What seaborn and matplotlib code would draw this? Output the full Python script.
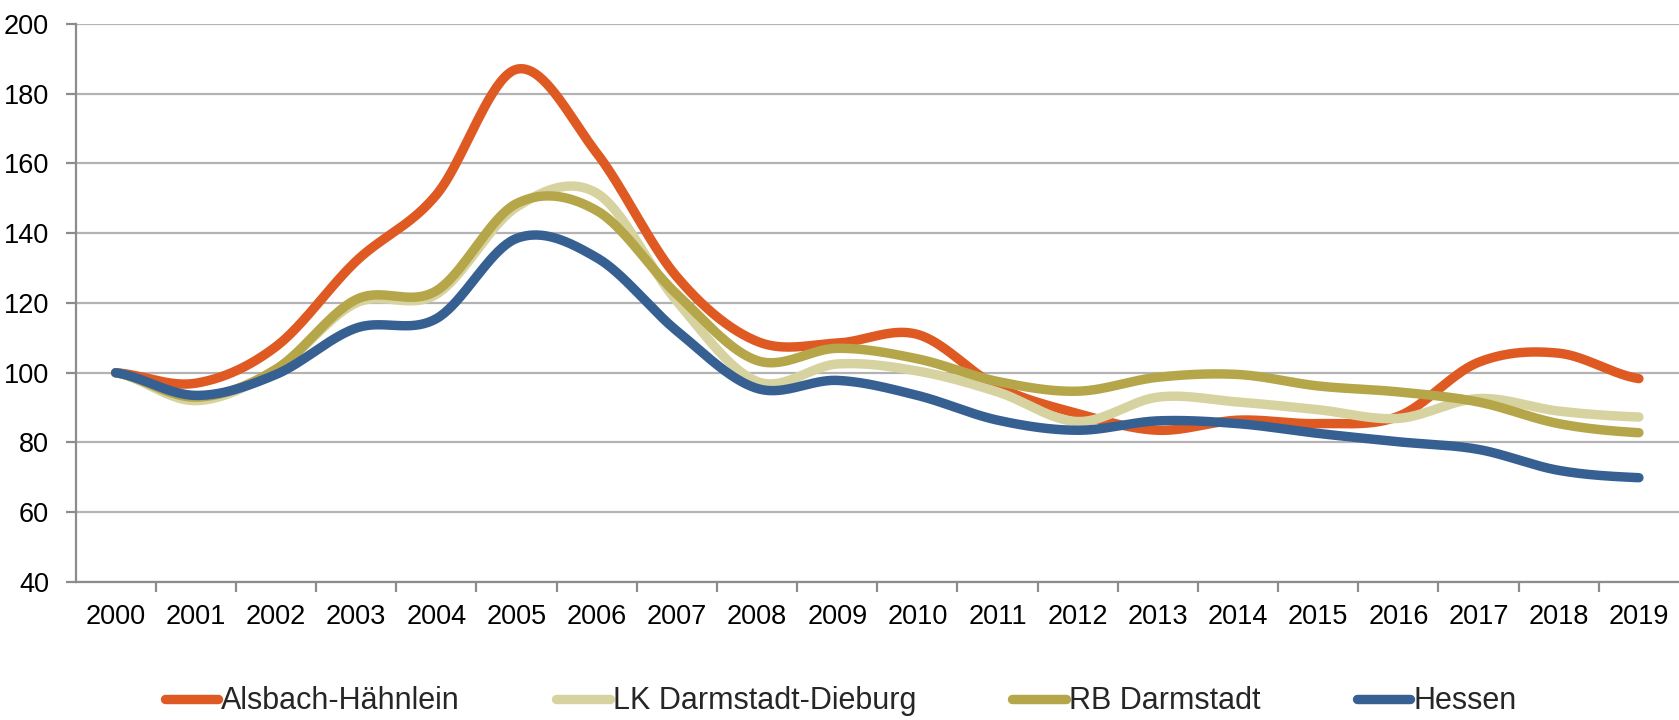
import numpy as np
import pandas as pd
import matplotlib
matplotlib.use("Agg")
import matplotlib.pyplot as plt
import seaborn as sns

# Index of property prices (2000 = 100)
years = [str(y) for y in range(2000, 2020)]
alsbach = [100, 97, 107.5, 132, 151, 187, 163, 127.5, 109, 108.5,
           111, 96, 88.3, 83.5, 86.4, 85.4, 87.5, 103, 105.6, 98.3]
lk_darmstadt_dieburg = [100, 92, 101, 120, 122.5, 147.5, 151.5, 120.5, 97.5, 102.5,
                        100.5, 94.5, 86, 93, 91.6, 89.4, 86.9, 92.6, 89, 87.3]
rb_darmstadt = [100, 93, 101, 121, 123.5, 148.5, 146.5, 122.5, 103.5, 107,
                104, 97.5, 94.7, 98.7, 99.5, 96.2, 94.5, 91.6, 85.4, 82.8]
hessen = [100, 93.5, 99.5, 112.8, 115.5, 138.5, 133, 112, 95.5, 97.8,
          93.5, 86.4, 83.5, 86.2, 85.4, 82.6, 80.2, 78, 72, 69.9]

series_names = ["Alsbach-Hähnlein", "LK Darmstadt-Dieburg", "RB Darmstadt", "Hessen"]
series_values = [alsbach, lk_darmstadt_dieburg, rb_darmstadt, hessen]
colors = ["#DF5A22", "#D7D3A1", "#B5A64A", "#366092"]
y_ticks = [40, 60, 80, 100, 120, 140, 160, 180, 200]


def smooth_curve(values, steps=40):
    """Bezier smoothing through every point (Catmull-Rom style control points)."""
    p = np.asarray(values, dtype=float)
    padded = np.r_[p[0], p, p[-1]]
    xs, ys = [], []
    t = np.linspace(0, 1, steps, endpoint=False)
    for i in range(len(p) - 1):
        p0, p1, p2, p3 = padded[i:i + 4]
        c1 = p1 + (p2 - p0) / 6
        c2 = p2 - (p3 - p1) / 6
        y = ((1 - t) ** 3) * p1 + 3 * ((1 - t) ** 2) * t * c1 + 3 * (1 - t) * t ** 2 * c2 + t ** 3 * p2
        xs.append(i + t)
        ys.append(y)
    xs.append([len(p) - 1])
    ys.append([p[-1]])
    return np.concatenate(xs), np.concatenate(ys)


frames = []
for name, vals in zip(series_names, series_values):
    x, y = smooth_curve(vals)
    frames.append(pd.DataFrame({"pos": x, "index": y, "series": name}))
df = pd.concat(frames, ignore_index=True)

sns.set_style("white")
plt.rcParams["font.family"] = ["Liberation Sans", "DejaVu Sans"]

LW = 6.8

fig = plt.figure(figsize=(16.79, 7.2), dpi=100)
ax = fig.add_axes([0.045, 0.1917, 0.955, 0.775])

sns.lineplot(data=df, x="pos", y="index", hue="series", hue_order=series_names,
             palette=colors, linewidth=LW, estimator=None, sort=False, ax=ax,
             legend=True)
for line in ax.get_lines():
    line.set_solid_capstyle("round")

ax.set_xlim(-0.5, len(years) - 0.5)
ax.set_ylim(40, 200)
ax.set_yticks(y_ticks)
ax.set_yticklabels([str(v) for v in y_ticks])
ax.set_xticks(range(len(years)))
ax.set_xticklabels(years)
ax.set_xticks(np.arange(0.5, len(years) - 0.5, 1.0), minor=True)
ax.set_xlabel("")
ax.set_ylabel("")

ax.grid(axis="y", color="#B3B3B3", linewidth=1.6)
ax.grid(axis="x", visible=False)
ax.set_axisbelow(True)

for side in ["top", "right"]:
    ax.spines[side].set_visible(False)
for side in ["left", "bottom"]:
    ax.spines[side].set_color("#8C8C8C")
    ax.spines[side].set_linewidth(1.6)

ax.tick_params(axis="x", which="major", length=0, pad=16, labelsize=19.5, labelcolor="black")
ax.tick_params(axis="x", which="minor", length=7, width=1.6, color="#8C8C8C", direction="out")
ax.tick_params(axis="y", length=7, width=1.6, color="#8C8C8C", direction="out",
               pad=12, labelsize=19.5, labelcolor="black")
ax.tick_params(axis="y", left=True)
ax.tick_params(axis="x", which="minor", bottom=True)

handles, labels = ax.get_legend_handles_labels()
ax.get_legend().remove()
for h in handles:
    h.set_linewidth(LW)
    h.set_solid_capstyle("round")
fig.legend(handles, labels, loc="center left", bbox_to_anchor=(0.098, 0.026), ncol=4,
           frameon=False, fontsize=22, handlelength=1.75, handletextpad=0.1,
           columnspacing=3.15, borderpad=0, borderaxespad=0)

fig.savefig("out.png", dpi=100)
